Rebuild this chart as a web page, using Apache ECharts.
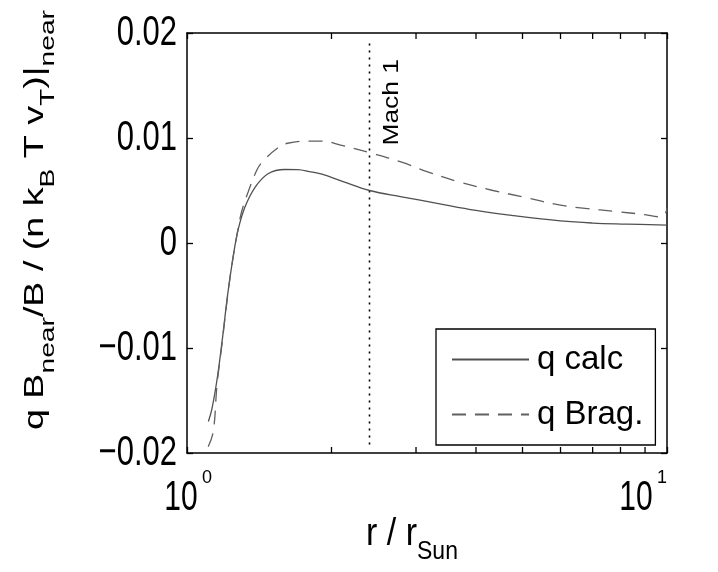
<!DOCTYPE html>
<html>
<head>
<meta charset="utf-8">
<script src="https://cdn.jsdelivr.net/npm/echarts@6/dist/echarts.min.js"></script>
<style>html,body{margin:0;padding:0;background:#fff}#c{width:718px;height:572px}</style>
</head>
<body>
<div id="c"></div>
<script>
// ---- data ----
const rCalc = [1.108, 1.127, 1.155, 1.183, 1.217, 1.247, 1.277, 1.32, 1.386, 1.475, 1.6, 1.7, 1.8, 1.91, 2.1, 2.4, 2.8, 3.3, 4.0, 4.8, 6.0, 7.0, 8.25, 10];
const qCalc = [-0.0170, -0.0158, -0.0130, -0.0094, -0.0047, -0.0014, 0.0012, 0.0034, 0.0053, 0.0066, 0.0070, 0.00698, 0.0068, 0.00655, 0.0059, 0.0050, 0.0044, 0.0038, 0.0031, 0.0026, 0.0021, 0.0019, 0.0018, 0.0017];
const rBrag = [1.107, 1.134, 1.155, 1.183, 1.217, 1.247, 1.277, 1.30, 1.342, 1.40, 1.44, 1.54, 1.62, 1.79, 1.91, 2.1, 2.4, 2.8, 3.16, 3.7, 4.34, 5.0, 6.0, 6.75, 7.8, 9.0, 9.6, 9.85, 10];
const qBrag = [-0.0194, -0.0180, -0.0135, -0.0096, -0.0048, -0.0014, 0.0013, 0.0030, 0.0049, 0.0070, 0.0078, 0.0090, 0.0095, 0.0097, 0.0097, 0.0093, 0.0086, 0.0077, 0.0068, 0.0058, 0.0050, 0.0044, 0.0036, 0.0033, 0.0030, 0.0027, 0.0025, 0.0026, 0.0033];
const machR = 2.4;
const machQ = [-0.0192, 0.0193];
const machLabelQ = 0.0134;
const machLabel = 'Mach 1';
const xMinorTicks = [2, 3, 4, 5, 6, 7, 8, 9];
const xTicks = [1, 10];
const xTickBase = ['10', '10'];
const xTickExp = ['0', '1'];
const yTicks = [-0.02, -0.01, 0, 0.01, 0.02];
const yTickLabels = ['\u22120.02', '\u22120.01', '0', '0.01', '0.02'];
const seriesNames = ['q calc', 'q Brag.'];
const xTitle = [['r / r', 'm'], ['Sun', 's']];
const yTitle = [['q B', 'm'], ['near', 's'], ['/B / (n k', 'm'], ['B', 's'], [' T v', 'm'], ['T', 's'], [')|', 'm'], ['near', 's']];

const FONT = 'Liberation Sans, Arial, sans-serif';
const zip = (a, b) => a.map((v, i) => [v, b[i]]);

const chart = echarts.init(document.getElementById('c'), null, {renderer: 'canvas'});

const boxAxis = {
  axisLine: {show: true, onZero: false, lineStyle: {color: '#000', width: 1.5}},
  axisTick: {show: true, inside: true, length: 6, lineStyle: {color: '#000', width: 1.3}},
  axisLabel: {show: false},
  splitLine: {show: false}
};

chart.setOption({
  backgroundColor: '#fff',
  animation: false,
  grid: {left: 187, right: 51, top: 33, bottom: 119, containLabel: false},
  legend: {
    data: seriesNames,
    orient: 'vertical',
    left: 436, top: 329,
    padding: [14, 12, 14, 15],
    itemGap: 22,
    itemWidth: 77, itemHeight: 30,
    borderColor: '#000', borderWidth: 1.3,
    backgroundColor: '#fff',
    itemStyle: {opacity: 0},
    textStyle: {fontFamily: FONT, fontSize: 33, color: '#000', padding: [0, 0, 0, 3]},
    selectedMode: false
  },
  xAxis: [
    Object.assign({type: 'log', logBase: 10, min: 1, max: 10, position: 'bottom'}, boxAxis),
    Object.assign({type: 'log', logBase: 10, min: 1, max: 10, position: 'top'}, boxAxis)
  ],
  yAxis: [
    Object.assign({type: 'value', min: -0.02, max: 0.02, interval: 0.01, position: 'left'}, boxAxis),
    Object.assign({type: 'value', min: -0.02, max: 0.02, interval: 0.01, position: 'right'}, boxAxis)
  ],
  series: [{
    name: seriesNames[0],
    type: 'line',
    data: zip(rCalc, qCalc),
    smooth: 0.4,
    symbol: 'none', showSymbol: false,
    lineStyle: {color: '#505050', width: 1.3, type: 'solid'},
    itemStyle: {color: '#505050'},
    z: 3
  }, {
    name: seriesNames[1],
    type: 'line',
    data: zip(rBrag, qBrag),
    smooth: 0.4,
    symbol: 'none', showSymbol: false,
    lineStyle: {color: '#606060', width: 1.3, type: [14, 9]},
    itemStyle: {color: '#606060'},
    z: 3
  }, {
    name: machLabel,
    type: 'line',
    data: machQ.map(q => [machR, q]),
    symbol: 'none', showSymbol: false,
    lineStyle: {color: '#000', width: 1.6, type: [2, 5]},
    z: 2
  }, {
    name: 'minor',
    type: 'custom',
    data: xMinorTicks.map(v => [v]),
    encode: {x: 0},
    silent: true,
    renderItem: (params, api) => {
      const cs = params.coordSys;
      const x = api.coord([api.value(0), 0])[0];
      const yb = cs.y + cs.height, yt = cs.y;
      const st = {stroke: '#000', lineWidth: 1.3};
      return {type: 'group', children: [
        {type: 'line', shape: {x1: x, y1: yb, x2: x, y2: yb - 6}, style: st},
        {type: 'line', shape: {x1: x, y1: yt, x2: x, y2: yt + 6}, style: st}
      ]};
    },
    z: 4
  }]
});

// ---- text placed through the axes' own scales ----
const px = v => chart.convertToPixel({xAxisIndex: 0}, v);
const py = v => chart.convertToPixel({yAxisIndex: 0}, v);
const gLeft = px(1), gRight = px(10), gTop = py(0.02), gBottom = py(-0.02);

const ctx = document.createElement('canvas').getContext('2d');
const measure = (pieces, sizes) => pieces.reduce((w, [t, k]) => {
  ctx.font = sizes[k] + 'px ' + FONT;
  return w + ctx.measureText(t).width;
}, 0);
const richStr = pieces => pieces.map(([t, k]) => '{' + k + '|' + t + '}').join('');

const gfx = [];
// y tick labels
yTicks.forEach((t, i) => {
  gfx.push({type: 'text', x: gLeft - 10, y: py(t), scaleY: 1.36,
    style: {text: yTickLabels[i], fontFamily: FONT, fontSize: 31, fill: '#000', align: 'right', verticalAlign: 'middle'}});
});
// x tick labels (10^n)
const xOff = [-6, -31];
xTicks.forEach((t, i) => {
  const cx = px(t) + xOff[i];
  gfx.push({type: 'text', x: cx, y: gBottom + 45, scaleY: 1.4,
    style: {text: xTickBase[i], fontFamily: FONT, fontSize: 30, fill: '#000', align: 'center', verticalAlign: 'middle'}});
  gfx.push({type: 'text', x: cx + 21, y: gBottom + 25,
    style: {text: xTickExp[i], fontFamily: FONT, fontSize: 18, fill: '#000', align: 'left', verticalAlign: 'middle'}});
});
// x title
const xSizes = {m: 34, s: 23};
gfx.push({type: 'text', x: (gLeft + gRight) / 2 - 15, y: gBottom + 87, scaleY: 1.15,
  style: {text: richStr(xTitle), align: 'center', verticalAlign: 'middle',
    rich: {
      m: {fontFamily: FONT, fontSize: xSizes.m, fill: '#000', lineHeight: 44, verticalAlign: 'top'},
      s: {fontFamily: FONT, fontSize: xSizes.s, fill: '#000', verticalAlign: 'bottom'}
    }}});
// y title (rotated, reading upward)
const ySizes = {m: 28, s: 21};
const yLen = measure(yTitle, ySizes);
gfx.push({type: 'text', x: 40, y: (gTop + gBottom) / 2 - 23, rotation: Math.PI / 2, scaleX: 420 / yLen,
  style: {text: richStr(yTitle), align: 'center', verticalAlign: 'middle',
    rich: {
      m: {fontFamily: FONT, fontSize: ySizes.m, fill: '#000', lineHeight: 38, verticalAlign: 'top'},
      s: {fontFamily: FONT, fontSize: ySizes.s, fill: '#000', verticalAlign: 'bottom'}
    }}});
// Mach 1 label
gfx.push({type: 'text', x: px(machR) + 22, y: py(machLabelQ), rotation: Math.PI / 2, scaleX: 1.2,
  style: {text: machLabel, fontFamily: FONT, fontSize: 22, fill: '#000', align: 'center', verticalAlign: 'middle'}, z: 5});

chart.setOption({graphic: gfx});
</script>
</body>
</html>
